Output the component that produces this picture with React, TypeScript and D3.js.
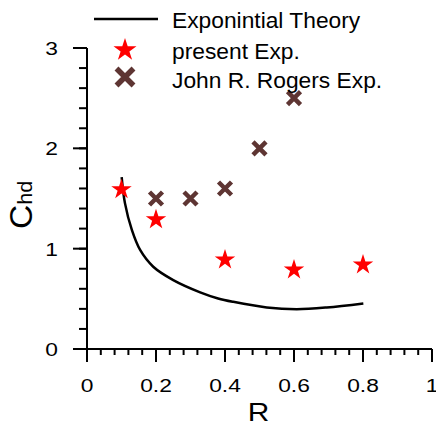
import React from "react";
import * as d3 from "d3";

// Exponential theory curve (R, C_hd)
const theoryR = [0.1005, 0.11, 0.13, 0.154, 0.192, 0.25, 0.328, 0.38, 0.424, 0.521, 0.608, 0.695, 0.801];
const theoryC = [1.714, 1.454, 1.187, 0.987, 0.82, 0.687, 0.565, 0.504, 0.47, 0.414, 0.397, 0.414, 0.454];

// Present experiment
const presentR = [0.1, 0.2, 0.4, 0.6, 0.8];
const presentC = [1.6, 1.3, 0.9, 0.8, 0.85];

// John R. Rogers experiment
const rogersR = [0.2, 0.3, 0.4, 0.5, 0.6];
const rogersC = [1.5, 1.5, 1.6, 2.0, 2.5];

const xTicks = [0, 0.2, 0.4, 0.6, 0.8, 1];
const xTickLabels = ["0", "0.2", "0.4", "0.6", "0.8", "1"];
const yTicks = [0, 1, 2, 3];
const yTickLabels = ["0", "1", "2", "3"];

const legendLabels = ["Exponintial Theory", "present Exp.", "John R. Rogers Exp."];

const FONT = "Liberation Sans, Arial, sans-serif";
const STAR = "#ff0000";
const CROSS = "#5e3533";

function Cross({ x, y, h, w }: { x: number; y: number; h: number; w: number }) {
  return (
    <path
      d={`M${x - h},${y - h}L${x + h},${y + h}M${x - h},${y + h}L${x + h},${y - h}`}
      stroke={CROSS}
      strokeWidth={w}
      fill="none"
    />
  );
}

export default function App() {
  const width = 436;
  const height = 423;
  const x = d3.scaleLinear().domain([0, 1]).range([87, 432]);
  const y = d3.scaleLinear().domain([0, 3]).range([349, 48]);

  const line = d3
    .line<number>()
    .x((_, i) => x(theoryR[i]))
    .y((_, i) => y(theoryC[i]))
    .curve(d3.curveCatmullRom.alpha(0.5));

  const star = (s: number) => d3.symbol().type(d3.symbolStar).size(s)() as string;

  const xMinorTicks = d3.range(0, 26).map((i) => i * 0.04);
  const yMinorTicks = d3.range(0, 16).map((i) => i * 0.2);

  return (
    <svg width={width} height={height} style={{ position: "absolute", left: 0, top: 0, background: "#fff" }}>
      {/* axes */}
      <g stroke="#000" strokeWidth={2} fill="none">
        <line x1={x(0)} x2={x(0)} y1={y(3)} y2={y(0) + 1} />
        <line x1={73} x2={x(1)} y1={y(0)} y2={y(0)} />
        {yTicks.map((t) => (
          <line key={"ym" + t} x1={73} x2={x(0)} y1={y(t)} y2={y(t)} />
        ))}
        {yMinorTicks.map((t) => (
          <line key={"yn" + t} x1={79} x2={x(0)} y1={y(t)} y2={y(t)} />
        ))}
        {xTicks.map((t) => (
          <line key={"xm" + t} x1={x(t)} x2={x(t)} y1={y(0)} y2={362} />
        ))}
        {xMinorTicks.map((t) => (
          <line key={"xn" + t} x1={x(t)} x2={x(t)} y1={y(0)} y2={355} />
        ))}
      </g>

      {/* tick labels */}
      <g fontFamily={FONT} fontSize={19} fill="#000">
        {xTicks.map((t, i) => (
          <text key={"xl" + t} transform={`translate(${x(t)},392) scale(1.2,1)`} textAnchor="middle">
            {xTickLabels[i]}
          </text>
        ))}
        {yTicks.map((t, i) => (
          <text key={"yl" + t} transform={`translate(58,${y(t) + 7}) scale(1.2,1)`} textAnchor="end">
            {yTickLabels[i]}
          </text>
        ))}
      </g>

      {/* axis titles */}
      <text transform={`translate(${x(0.5) - 1},421) scale(1.15,1)`} textAnchor="middle" fontFamily={FONT} fontSize={26}>
        R
      </text>
      <text transform="translate(32,229) rotate(-90) scale(1.08,1)" fontFamily={FONT} fontSize={31}>
        C<tspan fontSize={20}>hd</tspan>
      </text>

      {/* theory curve */}
      <path d={line(theoryR) || ""} fill="none" stroke="#000" strokeWidth={2.5} />

      {/* Rogers experiment */}
      {rogersR.map((r, i) => (
        <Cross key={"c" + i} x={x(r)} y={y(rogersC[i])} h={6.5} w={4.5} />
      ))}

      {/* present experiment */}
      {presentR.map((r, i) => (
        <path key={"s" + i} d={star(130)} transform={`translate(${x(r)},${y(presentC[i]) + 1})`} fill={STAR} />
      ))}

      {/* legend */}
      <line x1={94} x2={158} y1={19} y2={19} stroke="#000" strokeWidth={2.5} />
      <path d={star(164)} transform="translate(125,50)" fill={STAR} />
      <Cross x={125} y={77} h={8.5} w={5.5} />
      <g fontFamily={FONT} fontSize={21.5} fill="#000">
        <text transform="translate(172,27.5) scale(1.06,1)">{legendLabels[0]}</text>
        <text transform="translate(172,59) scale(1.06,1)">{legendLabels[1]}</text>
        <text transform="translate(172,88) scale(1.06,1)">{legendLabels[2]}</text>
      </g>
    </svg>
  );
}
